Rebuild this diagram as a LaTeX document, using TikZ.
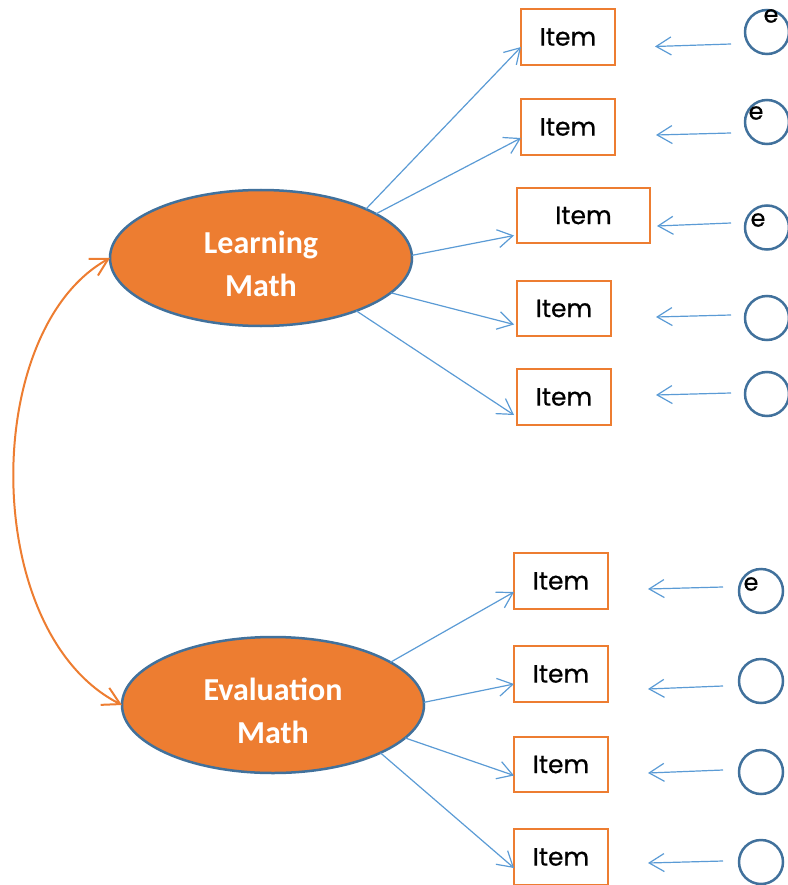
\documentclass[tikz,border=0pt]{standalone}
\usepackage{fontspec}
\setmainfont{Poppins}[FakeBold=0.6]
\newfontfamily\ellfont{Carlito}
\usetikzlibrary{shapes.geometric,arrows.meta}
\definecolor{orng}{HTML}{ED7D31}
\definecolor{dblue}{HTML}{41719C}
\definecolor{lblue}{HTML}{5B9BD5}
\newcommand{\lvtext}[2]{\raisebox{-8pt}[\height][\depth]{\begin{tabular}{@{}c@{}}#1\\#2\end{tabular}}}
\begin{document}
\begin{tikzpicture}[x=1pt,y=-1pt,
 latent/.style={ellipse, draw=dblue, line width=2.5pt, fill=orng, minimum width=302pt, minimum height=136pt, inner sep=0pt, outer sep=0pt, text=white, font=\ellfont\bfseries\fontsize{32}{43}\selectfont},
 itembox/.style={draw=orng, line width=2pt, fill=white, minimum height=56pt, minimum width=94pt, inner sep=0pt, outer sep=0pt, font=\fontsize{25}{28}\selectfont},
 errc/.style={circle, draw=dblue, line width=2.5pt, minimum size=44pt, inner sep=0pt, outer sep=0pt},
 elab/.style={font=\fontsize{24}{26}\selectfont, inner sep=0pt},
 load/.style={draw=lblue, line width=1.2pt, -{Straight Barb[length=15pt,width=18pt]}},
 corr/.style={draw=orng, line width=2pt, {Straight Barb[length=17pt,width=19pt]}-{Straight Barb[length=17pt,width=19pt]}}
]
\useasboundingbox (0,0) rectangle (787,885);

% latent variables
\node[latent] (LM) at (261,258) {\lvtext{Learning}{Math}};
\node[latent] (EM) at (273,705) {\lvtext{Evaluation}{Math}};

% items
\node[itembox] (i1) at (568,37) {Item};
\node[itembox] (i2) at (568,127) {Item};
\node[itembox, minimum width=133pt, minimum height=55pt] (i3) at (583.5,215.5) {Item};
\node[itembox, minimum height=55pt] (i4) at (564,308.5) {Item};
\node[itembox] (i5) at (564,397) {Item};
\node[itembox] (i6) at (561,581) {Item};
\node[itembox] (i7) at (561,674) {Item};
\node[itembox, minimum height=55pt] (i8) at (561,764.5) {Item};
\node[itembox] (i9) at (561,857) {Item};

% error circles
\node[errc] (e1) at (767,32) {};
\node[errc] (e2) at (767,122) {};
\node[errc] (e3) at (767,227.5) {};
\node[errc] (e4) at (767,318) {};
\node[errc] (e5) at (767,394) {};
\node[errc] (e6) at (761,591) {};
\node[errc] (e7) at (761,681) {};
\node[errc] (e8) at (761,772) {};
\node[errc] (e9) at (761,862) {};

% e labels
\node[elab] (l1) at (771,16) {e};
\node[elab] (l2) at (756,113) {e};
\node[elab] (l3) at (758,220) {e};
\node[elab] (l6) at (751,584) {e};

% loadings
\draw[load] (LM.25) -- ([yshift=-10pt]i1.west);
\draw[load] (LM.21) -- ([yshift=-11pt]i2.west);
\draw[load] (LM.1) -- ([xshift=-3pt,yshift=-20pt]i3.west);
\draw[load] (LM.-15) -- ([xshift=-3pt,yshift=-16pt]i4.west);
\draw[load] (LM.-29) -- ([xshift=-3pt,yshift=-18pt]i5.west);
\draw[load] (EM.20) -- ([yshift=-11pt]i6.west);
\draw[load] (EM.1) -- ([yshift=-10pt]i7.west);
\draw[load] (EM.-14) -- ([yshift=-11pt]i8.west);
\draw[load] (EM.-24) -- ([yshift=-11pt]i9.west);

% error arrows
\coordinate (s1) at (731,44);  \coordinate (t1) at (655,46.5);
\coordinate (s2) at (731,133); \coordinate (t2) at (656,135);
\coordinate (s3) at (731,223); \coordinate (t3) at (657,226);
\coordinate (s4) at (731,315); \coordinate (t4) at (656,317);
\coordinate (s5) at (731,393); \coordinate (t5) at (656,395);
\coordinate (s6) at (723,587); \coordinate (t6) at (648,589);
\coordinate (s7) at (723,686); \coordinate (t7) at (648,689);
\coordinate (s8) at (723,770); \coordinate (t8) at (648,773);
\coordinate (s9) at (723,861); \coordinate (t9) at (648,863);
\foreach \k in {1,...,9} {\draw[load] (s\k) -- (t\k);}

% correlation
\draw[corr] (LM.west) .. controls (-20,330) and (-20,633) .. (EM.west);
\end{tikzpicture}
\end{document}
